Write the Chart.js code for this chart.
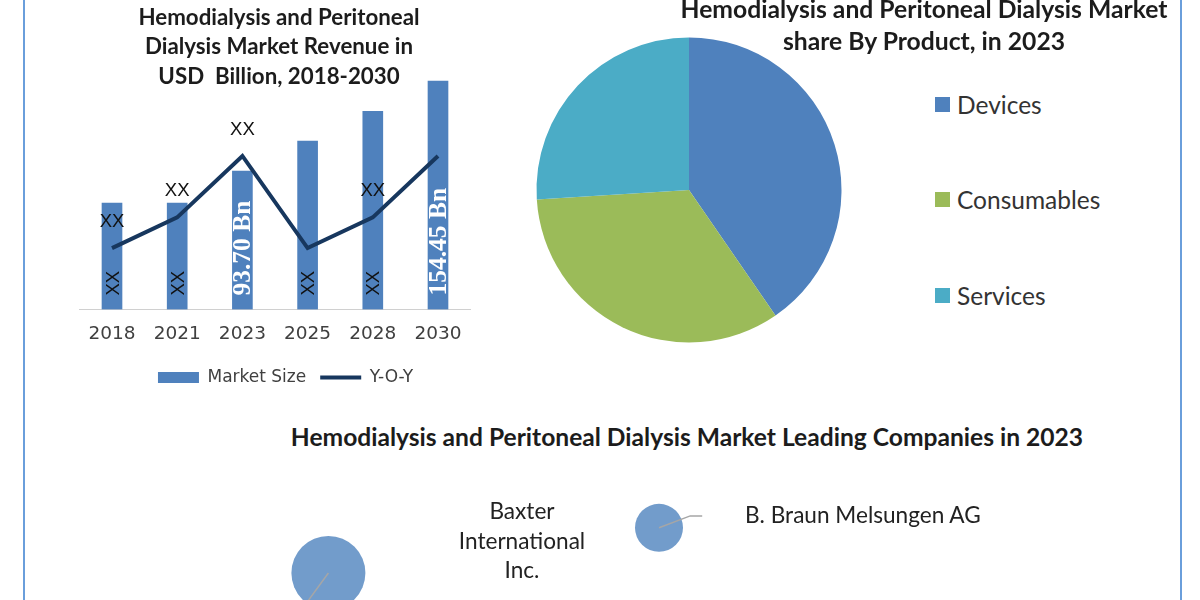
<!DOCTYPE html>
<html>
<head>
<meta charset="utf-8">
<title>Hemodialysis and Peritoneal Dialysis Market</title>
<script src="https://cdn.jsdelivr.net/npm/chart.js@4/dist/chart.umd.min.js"></script>
<style>
  html, body { margin:0; padding:0; background:#fff; }
  #page { position:relative; width:1200px; height:600px; overflow:hidden; background:#fff; }
  #page canvas { position:absolute; }
  .frame { position:absolute; top:0; bottom:0; width:2px; background:#6a9edb; }
  .title { position:absolute; text-align:center; font-family:Lato, sans-serif; font-weight:700; color:#1c1c1c; white-space:pre; }
  .name { position:absolute; text-align:center; font-family:Lato, sans-serif; color:#222; font-size:22.6px; white-space:pre; }
  #pieLegend div { position:absolute; left:0; white-space:pre; font:24.5px Lato, sans-serif; color:#333; height:24px; line-height:24px; padding-left:22px; }
  #pieLegend i { position:absolute; left:0; top:4px; width:15px; height:15px; }
</style>
</head>
<body>
<div id="page">
  <div class="frame" style="left:23px"></div>
  <div class="frame" style="left:1180px"></div>

  <canvas id="barChart" width="451" height="323" style="left:60px;top:73px"></canvas>
  <canvas id="pieChart" width="338" height="338" style="left:520px;top:21px"></canvas>
  <canvas id="bubbleChart" width="600" height="140" style="left:200px;top:490px"></canvas>

  <div class="title" style="left:79px;width:400px;top:1.5px;font-size:22.3px;line-height:29.5px">Hemodialysis and Peritoneal
Dialysis Market Revenue in
USD  Billion, 2018-2030</div>
  <div class="title" style="left:624px;width:600px;top:-7px;font-size:24.7px;line-height:32px">Hemodialysis and Peritoneal Dialysis Market
share By Product, in 2023</div>
  <div class="title" style="left:187px;width:1000px;top:423px;font-size:24.6px;line-height:28px">Hemodialysis and Peritoneal Dialysis Market Leading Companies in 2023</div>

  <div class="name" style="left:422px;width:200px;top:496px;line-height:29.5px">Baxter
International
Inc.</div>
  <div class="name" style="left:745px;top:502px;line-height:26px">B. Braun Melsungen AG</div>

  <div id="pieLegend" style="position:absolute;left:935px;top:0"></div>
</div>

<script>
/* ===== DATA ===== */
const years = ['2018', '2021', '2023', '2025', '2028', '2030'];
const marketSize = [72, 72, 93.7, 114, 134, 154.45];
const yoy = [2, 3, 5, 2, 3, 5];
const barLabels = ['XX', 'XX', '93.70 Bn', 'XX', 'XX', '154.45 Bn'];
const lineLabels = ['XX', 'XX', 'XX', '', 'XX', ''];

const products = ['Devices', 'Consumables', 'Services'];
const productShare = [40.4, 33.6, 26];
const productColors = ['#4f81bd', '#9bbb59', '#4bacc6'];

const companyX = [21.4, 76.5];
const companyY = [4.07, 7.3];
const companyR = [37, 24];
const leaderA = [{ x: 21.4, y: 4.07 }, { x: 17.7, y: 1.9 }];
const leaderB = [{ x: 76.5, y: 7.3 }, { x: 81.7, y: 8.15 }, { x: 83.7, y: 8.15 }];

/* ===== BAR + LINE ===== */
const barBlue = '#4f81bd', navy = '#17375e';

const valueLabels = {
  id: 'valueLabels',
  afterDatasetsDraw(chart) {
    const ctx = chart.ctx;
    const base = chart.scales.y.getPixelForValue(0);
    const bars = chart.getDatasetMeta(0).data;
    const pts = chart.getDatasetMeta(1).data;
    ctx.save();
    bars.forEach((b, i) => {
      const big = barLabels[i] !== 'XX';
      ctx.save();
      ctx.translate(b.x + 1.5, base - 14);
      ctx.rotate(-Math.PI / 2);
      ctx.textAlign = 'left';
      ctx.textBaseline = 'middle';
      ctx.fillStyle = big ? '#fff' : '#111';
      ctx.font = big ? 'bold 25.5px "Liberation Serif"' : '18.5px "Liberation Sans"';
      ctx.fillText(barLabels[i], 0, 0);
      ctx.restore();
    });
    ctx.textAlign = 'center';
    ctx.textBaseline = 'middle';
    ctx.fillStyle = '#111';
    ctx.font = '18.5px "Liberation Sans"';
    pts.forEach((p, i) => {
      if (lineLabels[i]) ctx.fillText(lineLabels[i], p.x, p.y - 26);
    });
    ctx.restore();
  }
};

new Chart(document.getElementById('barChart'), {
  type: 'bar',
  data: {
    labels: years,
    datasets: [
      { label: 'Market Size', data: marketSize, backgroundColor: barBlue, barThickness: 20, order: 2, yAxisID: 'y', pointStyle: 'rect' },
      { type: 'line', label: 'Y-O-Y', data: yoy, borderColor: navy, backgroundColor: navy, borderWidth: 4, pointRadius: 0, order: 1, yAxisID: 'y2', tension: 0, pointStyle: 'line' }
    ]
  },
  options: {
    responsive: false,
    animation: false,
    plugins: {
      title: { display: false },
      tooltip: { enabled: false },
      legend: {
        position: 'bottom',
        labels: {
          usePointStyle: true, pointStyleWidth: 41, boxHeight: 11, padding: 14, color: '#404040',
          font: { family: 'DejaVu Sans', size: 17 },
          sort: (a, b) => a.datasetIndex - b.datasetIndex
        }
      }
    },
    scales: {
      x: {
        grid: { display: false },
        border: { color: '#d0d0d0', width: 1 },
        ticks: { color: '#404040', padding: 6, font: { family: 'DejaVu Sans', size: 18.5 } },
        afterFit(s) { s.height = 45.5; }
      },
      y: { min: 0, max: 160, display: true, ticks: { display: false }, grid: { display: false }, border: { display: false }, afterFit(s) { s.width = 19.4; } },
      y2: { min: 0, max: 7.7, position: 'right', display: true, ticks: { display: false }, grid: { display: false }, border: { display: false }, afterFit(s) { s.width = 40.4; } }
    }
  },
  plugins: [valueLabels]
});

/* ===== PIE ===== */
new Chart(document.getElementById('pieChart'), {
  type: 'pie',
  data: {
    labels: products,
    datasets: [{ data: productShare, backgroundColor: productColors, borderWidth: 0, radius: 152.5 }]
  },
  options: {
    responsive: false,
    animation: false,
    plugins: { legend: { display: false }, tooltip: { enabled: false } }
  }
});

const legendTops = [93, 188, 284];
const pieLegend = document.getElementById('pieLegend');
products.forEach((p, i) => {
  const row = document.createElement('div');
  row.style.top = legendTops[i] + 'px';
  row.textContent = p;
  const sw = document.createElement('i');
  sw.style.background = productColors[i];
  row.appendChild(sw);
  pieLegend.appendChild(row);
});

/* ===== COMPANIES ===== */
new Chart(document.getElementById('bubbleChart'), {
  type: 'bubble',
  data: {
    datasets: [
      { type: 'line', data: leaderA, borderColor: '#a6a6a6', borderWidth: 1.5, pointRadius: 0, order: 1, clip: false },
      { type: 'line', data: leaderB, borderColor: '#a6a6a6', borderWidth: 1.5, pointRadius: 0, order: 1, clip: false },
      {
        label: 'Companies',
        data: companyX.map((x, i) => ({ x: x, y: companyY[i], r: companyR[i] })),
        backgroundColor: '#729ccb',
        borderWidth: 0,
        order: 2,
        clip: false
      }
    ]
  },
  options: {
    responsive: false,
    animation: false,
    layout: { padding: 0, autoPadding: false },
    plugins: { legend: { display: false }, tooltip: { enabled: false } },
    scales: {
      x: { type: 'linear', min: 0, max: 100, display: false },
      y: { type: 'linear', min: 0, max: 10, display: false }
    }
  }
});
</script>
</body>
</html>
